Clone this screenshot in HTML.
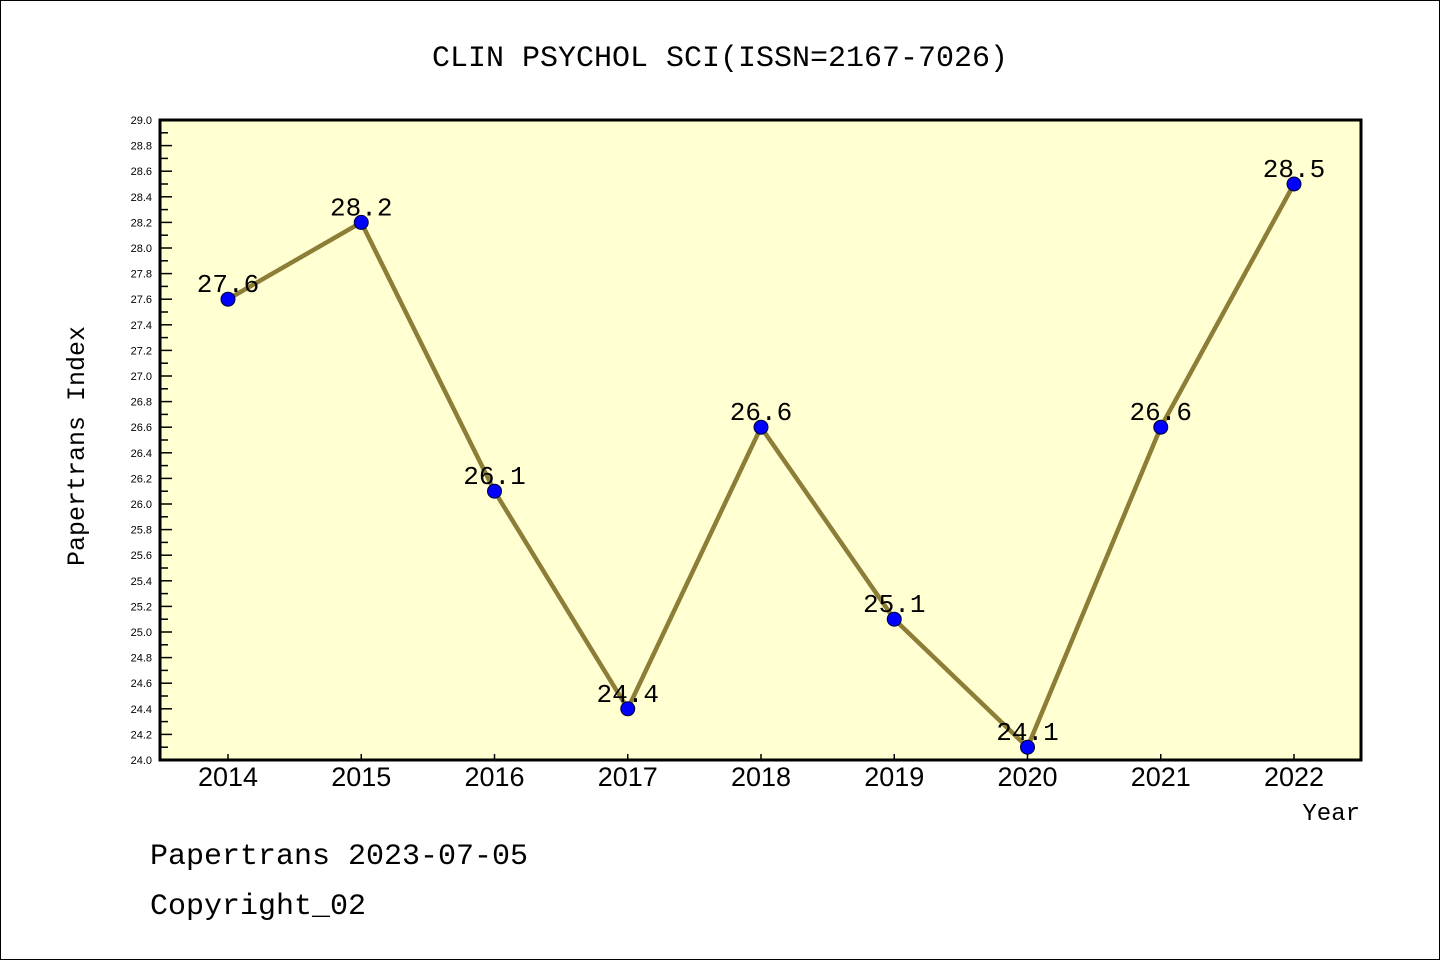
<!DOCTYPE html>
<html><head><meta charset="utf-8"><style>
html,body{margin:0;padding:0;background:#fff;}
svg{display:block;}
text{font-family:"Liberation Mono","DejaVu Sans Mono",monospace;}
</style></head><body>
<svg id="chart" width="1440" height="960" xmlns="http://www.w3.org/2000/svg">
<rect x="0.5" y="0.5" width="1439" height="959" fill="#fff" stroke="#000"/>
<text x="720" y="66" font-size="30" text-anchor="middle">CLIN PSYCHOL SCI(ISSN=2167-7026)</text>
<rect x="160" y="120" width="1201" height="640" fill="#ffffd2"/>
<g id="yaxis"></g>
<g id="xaxis"></g>
<g id="series"></g>
<rect x="160" y="120" width="1201" height="640" fill="none" stroke="#000" stroke-width="3"/>
<text transform="translate(84,446) rotate(-90)" font-size="25" text-anchor="middle">Papertrans Index</text>
<text x="1360" y="820" font-size="24" text-anchor="end">Year</text>
<text x="150" y="864" font-size="30">Papertrans 2023-07-05</text>
<text x="150" y="914" font-size="30">Copyright_02</text>
</svg>
<script>
const years = ["2014","2015","2016","2017","2018","2019","2020","2021","2022"];
const values = [27.6,28.2,26.1,24.4,26.6,25.1,24.1,26.6,28.5];
const valueLabels = ["27.6","28.2","26.1","24.4","26.6","25.1","24.1","26.6","28.5"];
const yMin = 24.0, yMax = 29.0;
const NS="http://www.w3.org/2000/svg";
const L=160,R=1361,T=120,B=760;
const x0=228,x1=1294;
function xs(i){return x0+(x1-x0)*i/(years.length-1);}
function ys(v){return B-(v-yMin)/(yMax-yMin)*(B-T);}
function mk(tag,parent){const e=document.createElementNS(NS,tag);parent.appendChild(e);return e;}
const ya=document.getElementById('yaxis'),xa=document.getElementById('xaxis'),sg=document.getElementById('series');
for(let k=0;k<=50;k++){
  const v=yMin+k*0.1, y=ys(v), major=k%2===0;
  const t=mk('line',ya);
  
  
  t.setAttribute('x1',L);t.setAttribute('x2',L+(major?12:8));t.setAttribute('y1',y);t.setAttribute('y2',y);t.setAttribute('stroke','#000');t.setAttribute('stroke-width','1.5');
  if(major){
    const tx=mk('text',ya);
    
    
    tx.setAttribute('x',152);tx.setAttribute('y',y+4);tx.setAttribute('font-size','11');tx.setAttribute('text-anchor','end');
    tx.style.fontFamily='"Liberation Sans",sans-serif';
    tx.textContent=v.toFixed(1);
  }
}
years.forEach((yr,i)=>{
  const x=xs(i);
  const t=mk('line',xa);
  
  
  t.setAttribute('x1',x);t.setAttribute('x2',x);t.setAttribute('y1',B);t.setAttribute('y2',B-6);t.setAttribute('stroke','#000');t.setAttribute('stroke-width','1.5');
  const tx=mk('text',xa);
  
  
  tx.setAttribute('x',x);tx.setAttribute('y',786);tx.setAttribute('font-size','27');tx.setAttribute('text-anchor','middle');
  tx.style.fontFamily='"Liberation Sans",sans-serif';
  tx.textContent=yr;
});
const line=mk('polyline',sg);


line.setAttribute('points',values.map((v,i)=>xs(i)+','+ys(v)).join(' '));
line.setAttribute('fill','none');line.setAttribute('stroke','#8c7d37');line.setAttribute('stroke-width','4.5');
values.forEach((v,i)=>{
  const c=mk('circle',sg);
  
  
  c.setAttribute('cx',xs(i));c.setAttribute('cy',ys(v));c.setAttribute('r','7');c.setAttribute('fill','#0000ff');c.setAttribute('stroke','#000033');c.setAttribute('stroke-width','1');
  const tx=mk('text',sg);
  
  
  tx.setAttribute('x',xs(i));tx.setAttribute('y',ys(v)-7);tx.setAttribute('font-size','26');tx.setAttribute('text-anchor','middle');
  tx.textContent=valueLabels[i];
});
</script>
</body></html>
